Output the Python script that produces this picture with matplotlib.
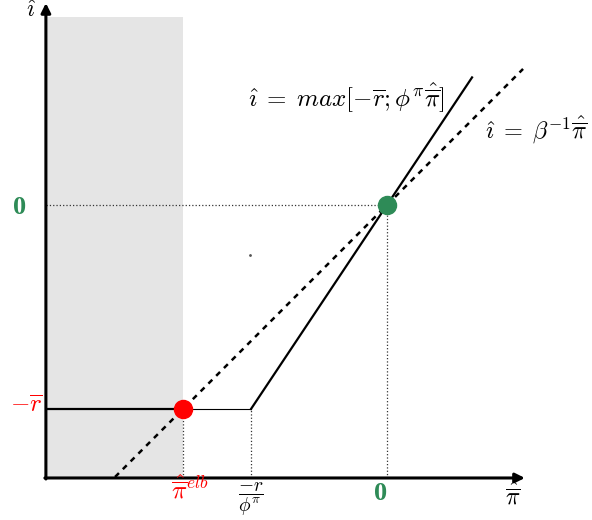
import matplotlib
matplotlib.use("Agg")
import matplotlib.pyplot as plt

plt.rcParams['mathtext.fontset'] = 'cm'
plt.rcParams['font.family'] = 'serif'
plt.rcParams['font.serif'] = ['DejaVu Serif']

# parametry schematu
r_bar = 1.0
phi_pi = 1.5
beta_inv = 1.0

# osie (w jednostkach danych)
x_axis_min, x_axis_max = -1.672, 0.676
y_axis_min, y_axis_max = -1.338, 0.99
shade_x = [-1.672, -1.0]
shade_top = 0.92

# regula Taylora z ograniczeniem ZLB
rule_x = [-r_bar / phi_pi, 0.417]
rule_y = [-r_bar, phi_pi * 0.417]
floor_thick_x = [-1.672, -1.0]
floor_thin_x = [-1.0, -r_bar / phi_pi]

# relacja Fishera
fisher_x = [-1.333, 0.667]
fisher_y = [beta_inv * v for v in fisher_x]

# punkty rownowagi
elb_pt = (-1.0, -1.0)
target_pt = (0.0, 0.0)
stray_pt = (-0.672, -0.245)

GREEN = '#2e8b57'
RED = '#ff0000'

fig = plt.figure(figsize=(5.92, 5.2), dpi=100)
ax = fig.add_axes([0, 0, 1, 1])
ax.set_xlim(-1.897, 1.005)
ax.set_ylim(-1.544, 1.005)
ax.axis('off')

# szary obszar
ax.fill_between(shade_x, y_axis_min, shade_top, color='#e5e5e5', lw=0, zorder=0)

# linie pomocnicze (kropkowane)
ax.plot([x_axis_min, target_pt[0]], [0, 0], ls=':', color='#333333', lw=0.9)
ax.plot([target_pt[0], target_pt[0]], [y_axis_min, 0], ls=':', color='#333333', lw=0.9)
ax.plot([elb_pt[0], elb_pt[0]], [y_axis_min, -r_bar], ls=':', color='#333333', lw=0.9)
ax.plot([rule_x[0], rule_x[0]], [y_axis_min, -r_bar], ls=':', color='#333333', lw=0.9)

# regula
ax.plot(floor_thick_x, [-r_bar, -r_bar], color='k', lw=1.6, solid_capstyle='butt')
ax.plot(floor_thin_x, [-r_bar, -r_bar], color='k', lw=0.8)
ax.plot(rule_x, rule_y, color='k', lw=1.6)

# Fisher
ax.plot(fisher_x, fisher_y, color='k', lw=1.8, ls=(0, (2.2, 2.2)))

# osie ze strzalkami
ax.annotate('', xy=(x_axis_max, y_axis_min), xytext=(x_axis_min - 0.005, y_axis_min),
            arrowprops=dict(arrowstyle='-|>', lw=2.2, color='k', mutation_scale=14,
                            shrinkA=0, shrinkB=0))
ax.annotate('', xy=(x_axis_min, y_axis_max), xytext=(x_axis_min, y_axis_min - 0.005),
            arrowprops=dict(arrowstyle='-|>', lw=2.2, color='k', mutation_scale=14,
                            shrinkA=0, shrinkB=0))

# punkty
ax.plot(*elb_pt, 'o', color=RED, ms=13, zorder=5)
ax.plot(*target_pt, 'o', color=GREEN, ms=13, zorder=5)
ax.plot(*stray_pt, 'o', color='#555555', ms=1)

# opisy
ax.text(-1.72, 0.955, r'$\hat{\imath}$', fontsize=17, ha='right', va='center')
ax.text(0.616, -1.422, r'$\hat{\overline{\pi}}$', fontsize=17, ha='center', va='center')
ax.text(-0.68, 0.53, r'$\hat{\imath}\;=\;max[-\overline{r};\phi^{\pi}\hat{\overline{\pi}}]$',
        fontsize=18, ha='left', va='center')
ax.text(0.985, 0.37, r'$\hat{\imath}\;=\;\beta^{-1}\hat{\overline{\pi}}$',
        fontsize=17.5, ha='right', va='center')
ax.text(-1.77, -0.01, '0', fontsize=19, fontweight='bold', family='Liberation Serif',
        color=GREEN, ha='right', va='center')
ax.text(-0.03, -1.415, '0', fontsize=19, fontweight='bold', family='Liberation Serif',
        color=GREEN, ha='center', va='center')
ax.text(-1.69, -0.98, r'$-\overline{r}$', fontsize=18, color=RED, ha='right', va='center')
ax.text(-0.965, -1.39, r'$\hat{\overline{\pi}}^{elb}$', fontsize=18, color=RED,
        ha='center', va='center')
ax.text(rule_x[0], -1.432, r'$\dfrac{-\overline{r}}{\phi^{\pi}}$', fontsize=14,
        ha='center', va='center')

fig.savefig('out.png', dpi=100)
